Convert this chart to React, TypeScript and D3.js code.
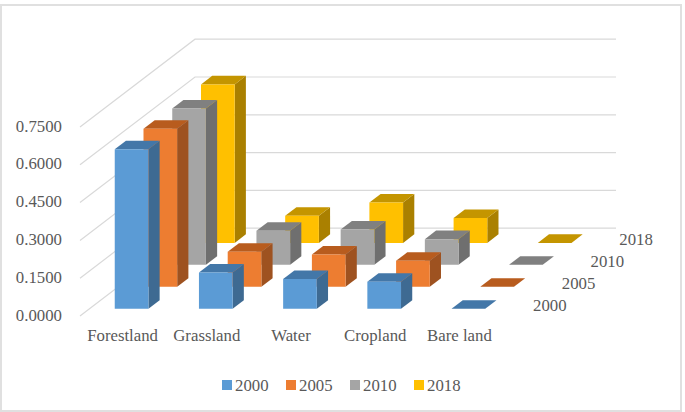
import * as d3 from 'd3';

const categories = ['Forestland', 'Grassland', 'Water', 'Cropland', 'Bare land'];
const years = ['2000', '2005', '2010', '2018'];
const yTicks = [0, 0.15, 0.3, 0.45, 0.6, 0.75];

const values2000 = [0.633, 0.144, 0.118, 0.107, 0];
const values2005 = [0.627, 0.139, 0.128, 0.103, 0];
const values2010 = [0.62, 0.135, 0.14, 0.102, 0];
const values2018 = [0.629, 0.108, 0.16, 0.099, 0];
const seriesValues = [values2000, values2005, values2010, values2018];

const frontColors = ['#5B9BD5', '#ED7D31', '#A5A5A5', '#FFC000'];
const sideColors = ['#3E6A92', '#9E5220', '#6F6F6F', '#AA8000'];
const topColors = ['#4377A8', '#B85C1E', '#808080', '#C49500'];

const width = 685;
const height = 412;
const font = '"Liberation Serif", serif';
const fontSize = 16.8;
const textColor = '#595959';

// floor corners of the 3d box
const floorLeft = 80;
const floorRight = 501;
const floorFront = 316;
const depthX = 28.75;
const depthY = -21.95;

export default function App() {
  const xScale = d3.scaleBand().domain(categories).range([floorLeft, floorRight]).paddingInner(0.6).paddingOuter(0.3);
  const yScale = d3.scaleLinear().domain([0, 0.75]).range([0, 189]);
  const depthScale = d3.scalePoint().domain(years).range([0.33, 3.33]);
  const barDepth = 0.39;
  const depthEnd = years.length;

  const project = (x: number, value: number, depth: number): [number, number] => [
    x + depth * depthX,
    floorFront - yScale(value) + depth * depthY
  ];
  const poly = (points: [number, number][]) => d3.line()(points)! + 'Z';

  const order = d3.range(years.length).reverse();

  return (
    <svg width={width} height={height} style={{ position: 'absolute', left: 0, top: 0, background: '#fff' }}>
      <rect x={1} y={5} width={680} height={406} fill="#fff" stroke="#E0E0E0" strokeWidth={2} />

      {yTicks.map((tick) => (
        <path
          key={tick}
          d={d3.line()([
            project(floorLeft, tick, 0),
            project(floorLeft, tick, depthEnd),
            project(floorRight, tick, depthEnd)
          ])!}
          fill="none"
          stroke="#D9D9D9"
          strokeWidth={1.2}
        />
      ))}

      {yTicks.map((tick) => (
        <text
          key={tick}
          x={62}
          y={project(floorLeft, tick, 0)[1] - 1}
          textAnchor="end"
          dominantBaseline="central"
          fontFamily={font}
          fontSize={fontSize}
          fill={textColor}
        >
          {tick.toFixed(4)}
        </text>
      ))}

      {order.map((s) => {
        const depth = depthScale(years[s])!;
        return seriesValues[s].map((value, c) => {
          const x0 = xScale(categories[c])!;
          const x1 = x0 + xScale.bandwidth();
          const d1 = depth + barDepth;
          return (
            <g key={`${s}-${c}`}>
              <path
                d={poly([project(x1, 0, depth), project(x1, value, depth), project(x1, value, d1), project(x1, 0, d1)])}
                fill={sideColors[s]}
              />
              <path
                d={poly([project(x0, value, depth), project(x1, value, depth), project(x1, value, d1), project(x0, value, d1)])}
                fill={topColors[s]}
              />
              <path
                d={poly([project(x0, 0, depth), project(x1, 0, depth), project(x1, value, depth), project(x0, value, depth)])}
                fill={frontColors[s]}
              />
            </g>
          );
        });
      })}

      {categories.map((name) => (
        <text
          key={name}
          x={xScale(name)! + xScale.bandwidth() / 2 + 0.5}
          y={335}
          textAnchor="middle"
          dominantBaseline="central"
          fontFamily={font}
          fontSize={fontSize}
          fill={textColor}
        >
          {name}
        </text>
      ))}

      {years.map((year) => {
        const [x, y] = project(floorRight + 22.5, 0, depthScale(year)!);
        return (
          <text
            key={year}
            x={x}
            y={y - 3}
            dominantBaseline="central"
            fontFamily={font}
            fontSize={fontSize}
            fill={textColor}
          >
            {year}
          </text>
        );
      })}

      {years.map((year, i) => (
        <g key={year} transform={`translate(${222 + i * 64},380)`}>
          <rect width={10} height={10} fill={frontColors[i]} />
          <text x={13} y={5} dominantBaseline="central" fontFamily={font} fontSize={fontSize} fill={textColor}>
            {year}
          </text>
        </g>
      ))}
    </svg>
  );
}
